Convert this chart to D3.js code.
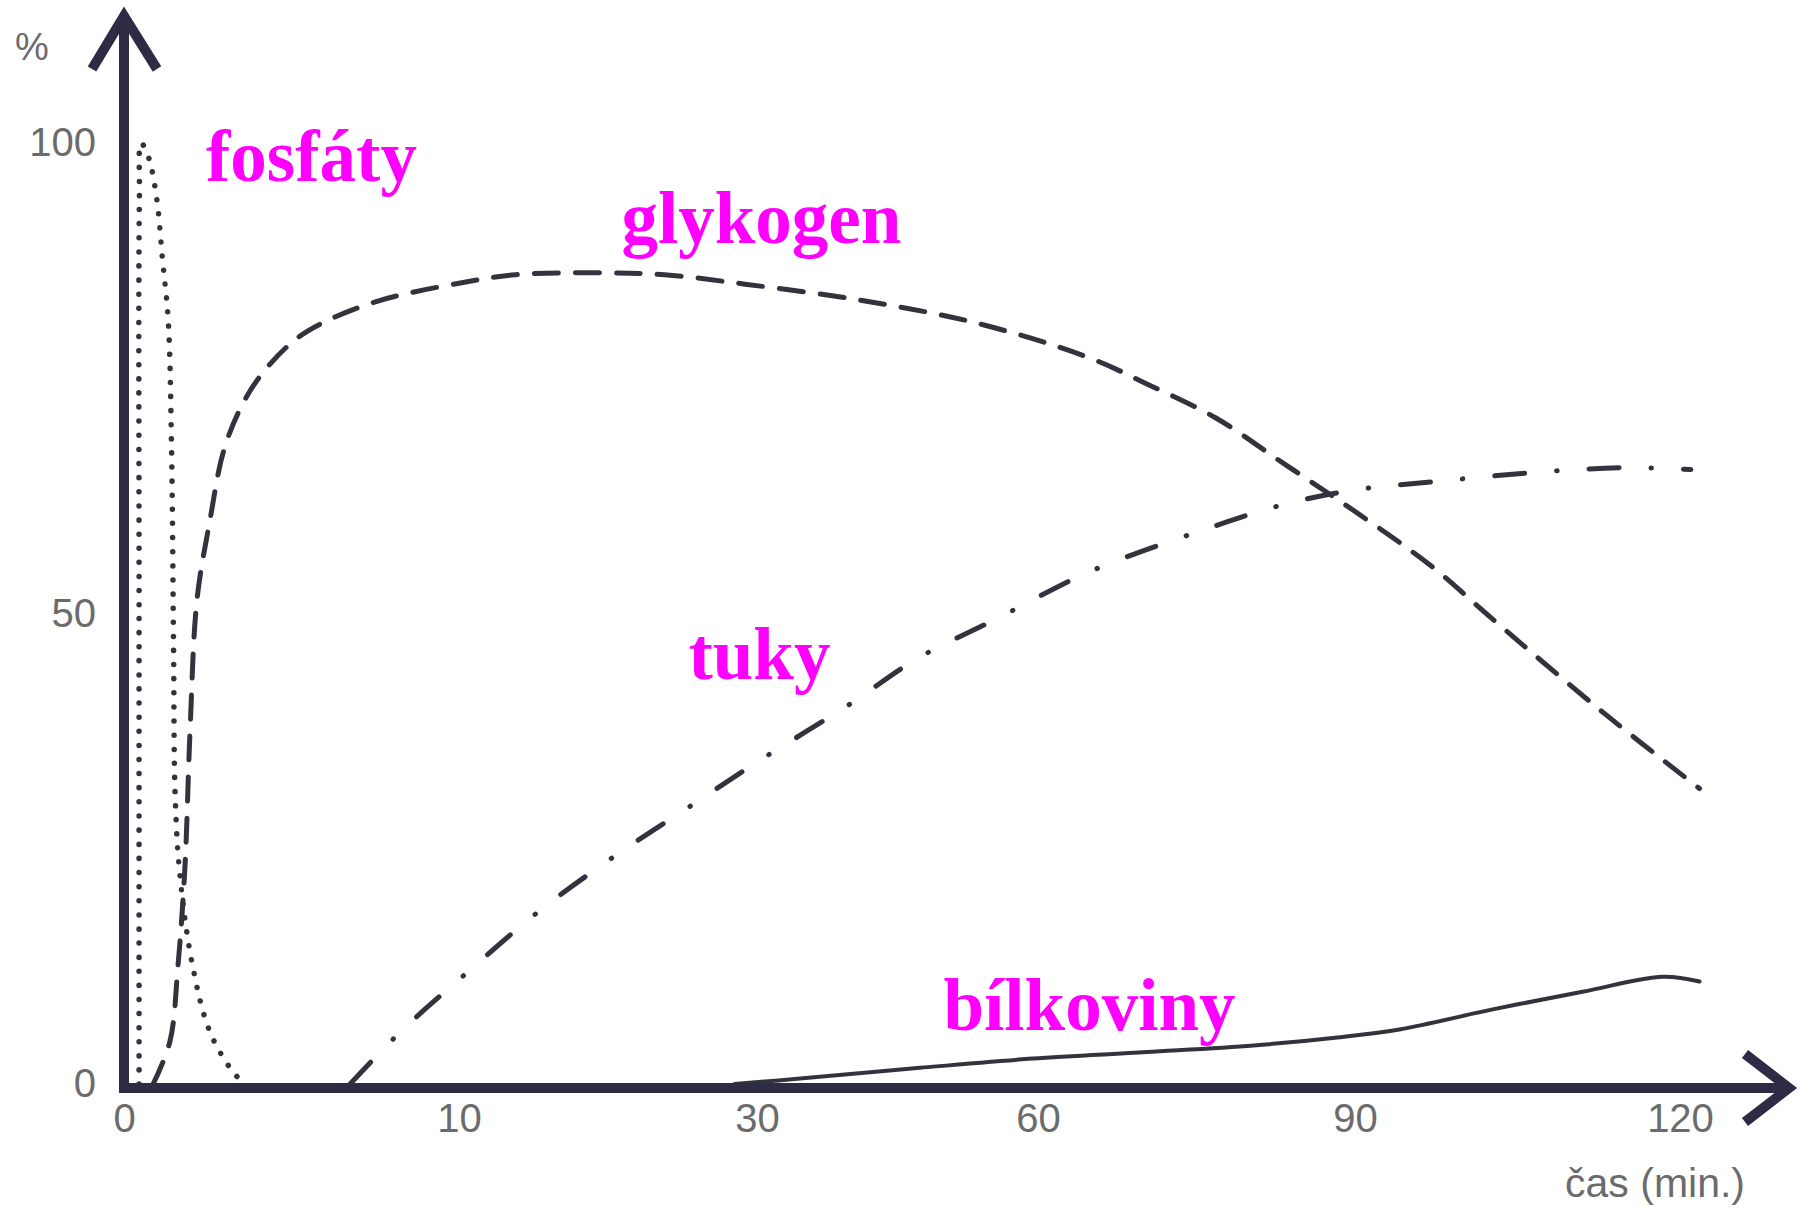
<!DOCTYPE html>
<html>
<head>
<meta charset="utf-8">
<script src="https://cdn.jsdelivr.net/npm/d3@7"></script>
<style>
  body { margin: 0; background: #fff; }
  .tick text { font-family: "Liberation Sans", Arial, sans-serif; fill: #6b6b6b; }
  .label { font-family: "Liberation Serif", "Times New Roman", serif; font-weight: bold; fill: #ff00ff; }
</style>
</head>
<body>
<svg id="chart" width="1798" height="1210"></svg>
<script>
// time (min) ticks and % ticks
var timeTicks = [0, 10, 30, 60, 90, 120];
var percentTicks = [0, 50, 100];

// [time in min, %]
var fosfaty = [[0.45, 0], [0.45, 50], [0.46, 94], [0.51, 100], [0.74, 98.4], [0.98, 94], [1.15, 87.6],
  [1.32, 81.2], [1.42, 67.4], [1.48, 46.2], [1.53, 30.3], [1.68, 21.8], [2.05, 12.5], [2.57, 5.5],
  [3.25, 1.3], [3.6, 0]];

var glykogen = [[0.87, 0], [1.37, 4.5], [1.61, 12.5], [1.82, 23.1], [1.97, 37.4], [2.18, 51.5],
  [2.57, 60], [2.96, 67.1], [3.46, 71.7], [4.06, 75.2], [5.04, 78.9], [5.88, 80.8], [7.58, 83.2],
  [10, 85.1], [13.8, 86], [19.2, 86.2], [23.8, 86], [29.2, 85], [41, 83.3], [53.3, 80.9],
  [64.8, 77.2], [70.3, 74.4], [76.8, 70.8], [83.3, 65.9], [89.8, 61], [97.2, 54.9],
  [102.6, 49.5], [113.1, 39.3], [121.8, 31.4]];

var tuky = [[6.75, 0], [8.27, 5.6], [10, 11.1], [15.4, 18.4], [20.7, 24.5], [25.4, 29.4], [30, 34.2],
  [39.8, 40.3], [47.1, 45.2], [55.7, 49.5], [64.8, 54.4], [75.7, 58.9], [83.3, 61.6], [89.8, 63.1],
  [97.2, 64], [107.8, 65.1], [115.2, 65.5], [121, 65.3]];

var bilkoviny = [[28.5, 0], [34.9, 0.6], [47.1, 1.7], [59.4, 2.7], [70.3, 3.4], [80.4, 4.1],
  [87.9, 4.9], [94.1, 5.8], [102.6, 7.9], [111, 9.8], [118.4, 11.4], [121.8, 10.9]];

var labelNames = ["fosfáty", "glykogen", "tuky", "bílkoviny"];
var labelAt = [[2.45, 96], [20.9, 89.4], [25.4, 43], [49.9, 5.7]];

var axisColor = "#2e2b45",
  lineColor = "#33333d";

var svg = d3.select("#chart");

// the time axis is not linear in the original
var x = d3.scaleLinear()
  .domain(timeTicks)
  .range([124, 459, 757, 1038, 1355, 1680]);

var y = d3.scaleLinear()
  .domain([0, 100])
  .range([1084, 143]);

var line = d3.line()
  .x(d => x(d[0]))
  .y(d => y(d[1]))
  .curve(d3.curveCatmullRom.alpha(0.5));

var series = [
  { data: fosfaty, dash: "0.1,14", width: 5.5 },
  { data: glykogen, dash: "24,17", width: 5 },
  { data: tuky, dash: "30,32,0.5,32", width: 5 },
  { data: bilkoviny, dash: null, width: 4 }
];

svg.selectAll(".curve")
  .data(series)
  .enter().append("path")
  .attr("class", "curve")
  .attr("d", d => line(d.data))
  .attr("fill", "none")
  .attr("stroke", lineColor)
  .attr("stroke-width", d => d.width)
  .attr("stroke-linecap", "round")
  .attr("stroke-dasharray", d => d.dash);

// axes
var x0 = x(0), yBase = y(0) + 4;

svg.append("g")
  .attr("transform", "translate(0," + yBase + ")")
  .call(d3.axisBottom(x).tickValues(timeTicks).tickSize(0).tickPadding(16))
  .call(g => g.select(".domain").remove())
  .selectAll("text")
  .attr("font-size", 40);

svg.append("g")
  .attr("transform", "translate(" + x0 + ",0)")
  .call(d3.axisLeft(y).tickValues(percentTicks).tickSize(0).tickPadding(28))
  .call(g => g.select(".domain").remove())
  .selectAll("text")
  .attr("font-size", 40);

svg.append("line")
  .attr("x1", x0).attr("y1", yBase + 5)
  .attr("x2", x0).attr("y2", 16)
  .attr("stroke", axisColor).attr("stroke-width", 10);

svg.append("path")
  .attr("d", "M" + (x0 - 32) + ",69L" + x0 + ",16L" + (x0 + 33) + ",69")
  .attr("fill", "none").attr("stroke", axisColor).attr("stroke-width", 10);

svg.append("line")
  .attr("x1", x0 - 5).attr("y1", yBase)
  .attr("x2", 1789).attr("y2", yBase)
  .attr("stroke", axisColor).attr("stroke-width", 10);

svg.append("path")
  .attr("d", "M1745," + (yBase - 34) + "L1789," + yBase + "L1745," + (yBase + 34))
  .attr("fill", "none").attr("stroke", axisColor).attr("stroke-width", 10);

svg.append("text")
  .attr("x", 32).attr("y", 60)
  .attr("text-anchor", "middle")
  .attr("font-family", "Liberation Sans, Arial, sans-serif")
  .attr("font-size", 38)
  .attr("fill", "#6b6b6b")
  .text("%");

svg.append("text")
  .attr("x", 1745).attr("y", 1197)
  .attr("text-anchor", "end")
  .attr("font-family", "Liberation Sans, Arial, sans-serif")
  .attr("font-size", 41)
  .attr("fill", "#6b6b6b")
  .text("čas (min.)");

svg.selectAll(".label")
  .data(labelNames)
  .enter().append("text")
  .attr("class", "label")
  .attr("x", (d, i) => x(labelAt[i][0]))
  .attr("y", (d, i) => y(labelAt[i][1]))
  .attr("font-size", 73)
  .text(d => d);
</script>
</body>
</html>
